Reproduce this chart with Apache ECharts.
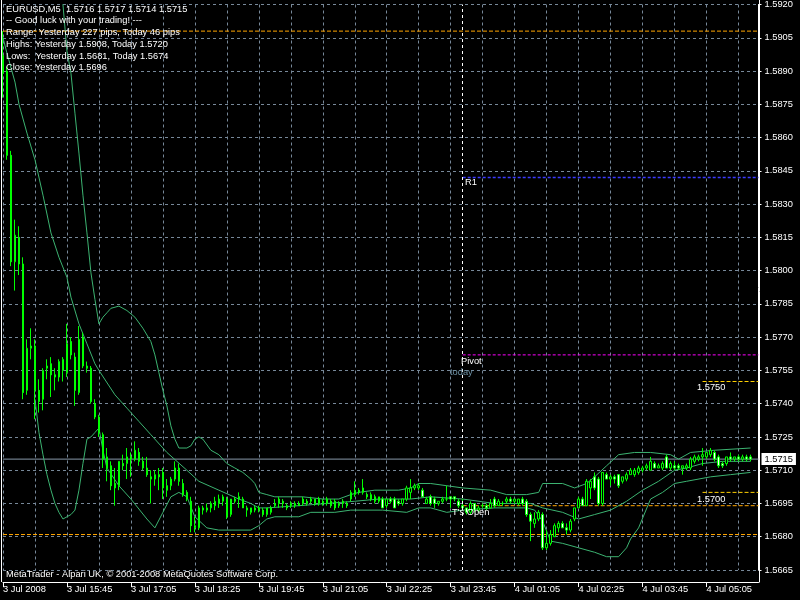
<!DOCTYPE html>
<html><head><meta charset="utf-8">
<script src="https://cdn.jsdelivr.net/npm/echarts@6/dist/echarts.min.js"></script>
<style>html,body{margin:0;padding:0;background:#000}#c{width:800px;height:600px}</style>
</head><body><div id="c"></div>
<script>
// ---------- data ----------
const symbolName = 'EURUSD,M5';
const tickLabels = ['3 Jul 2008','3 Jul 15:45','3 Jul 17:05','3 Jul 18:25','3 Jul 19:45','3 Jul 21:05','3 Jul 22:25','3 Jul 23:45','4 Jul 01:05','4 Jul 02:25','4 Jul 03:45','4 Jul 05:05'];

const opens = [
1.5897,1.5890,1.5852,1.5804,1.5815,1.5803,1.5746,1.5765,1.5766,1.5746,
1.5742,1.5756,1.5758,1.5753,1.5752,1.5755,1.5754,1.5768,1.5761,1.5745,
1.5770,1.5757,1.5756,1.5740,1.5734,1.5726,1.5716,1.5712,1.5704,1.5703,
1.5713,1.5713,1.5715,1.5715,1.5718,1.5714,1.5711,1.5707,1.5706,1.5708,
1.5709,1.5703,1.5703,1.5706,1.5711,1.5704,1.5700,1.5696,1.5684,1.5684,
1.5693,1.5692,1.5693,1.5694,1.5695,1.5696,1.5697,1.5690,1.5697,1.5698,
1.5697,1.5693,1.5691,1.5693,1.5692,1.5692,1.5690,1.5691,1.5694,1.5695,
1.5696,1.5694,1.5694,1.5694,1.5695,1.5695,1.5696,1.5696,1.5695,1.5695,
1.5696,1.5695,1.5696,1.5696,1.5694,1.5696,1.5695,1.5697,1.5699,1.5701,
1.5700,1.5699,1.5697,1.5698,1.5696,1.5697,1.5694,1.5697,1.5697,1.5696,
1.5695,1.5697,1.5700,1.5702,1.5702,1.5701,1.5695,1.5698,1.5697,1.5695,
1.5696,1.5697,1.5698,1.5698,1.5696,1.5694,1.5693,1.5691,1.5695,1.5692,
1.5694,1.5694,1.5693,1.5697,1.5694,1.5695,1.5696,1.5697,1.5696,1.5695,
1.5697,1.5696,1.5690,1.5686,1.5688,1.5690,1.5675,1.5677,1.5680,1.5684,
1.5686,1.5684,1.5683,1.5688,1.5693,1.5697,1.5694,1.5702,1.5707,1.5706,
1.5695,1.5708,1.5706,1.5707,1.5708,1.5705,1.5706,1.5708,1.5708,1.5709,
1.5710,1.5711,1.5710,1.5713,1.5711,1.5711,1.5716,1.5711,1.5712,1.5712,
1.5711,1.5711,1.5711,1.5714,1.5715,1.5716,1.5716,1.5717,1.5718,1.5716,
1.5713,1.5713,1.5716,1.5715,1.5716,1.5715,1.5716,1.5716];

const highs = [
1.5908,1.5892,1.5854,1.5823,1.5820,1.5806,1.5769,1.5774,1.5769,1.5751,
1.5756,1.5760,1.5761,1.5756,1.5760,1.5761,1.5776,1.5770,1.5763,1.5775,
1.5772,1.5759,1.5757,1.5742,1.5735,1.5727,1.5720,1.5714,1.5711,1.5714,
1.5717,1.5720,1.5718,1.5723,1.5720,1.5716,1.5716,1.5710,1.5710,1.5711,
1.5711,1.5706,1.5707,1.5714,1.5713,1.5706,1.5701,1.5698,1.5689,1.5694,
1.5694,1.5695,1.5696,1.5698,1.5699,1.5699,1.5698,1.5697,1.5698,1.5700,
1.5698,1.5694,1.5693,1.5694,1.5694,1.5693,1.5693,1.5694,1.5697,1.5698,
1.5697,1.5695,1.5696,1.5696,1.5696,1.5698,1.5697,1.5698,1.5697,1.5698,
1.5697,1.5698,1.5697,1.5697,1.5696,1.5697,1.5696,1.5701,1.5705,1.5702,
1.5706,1.5700,1.5700,1.5699,1.5698,1.5698,1.5697,1.5698,1.5698,1.5697,
1.5697,1.5703,1.5706,1.5704,1.5704,1.5702,1.5698,1.5699,1.5698,1.5696,
1.5698,1.5703,1.5698,1.5698,1.5697,1.5697,1.5693,1.5696,1.5695,1.5694,
1.5695,1.5695,1.5697,1.5698,1.5697,1.5696,1.5698,1.5698,1.5697,1.5697,
1.5698,1.5697,1.5691,1.5691,1.5692,1.5691,1.5683,1.5683,1.5686,1.5687,
1.5687,1.5686,1.5688,1.5693,1.5698,1.5698,1.5706,1.5706,1.5709,1.5707,
1.5709,1.5709,1.5708,1.5708,1.5708,1.5707,1.5709,1.5711,1.5711,1.5712,
1.5712,1.5713,1.5716,1.5714,1.5713,1.5714,1.5717,1.5714,1.5714,1.5713,
1.5712,1.5713,1.5716,1.5717,1.5717,1.5720,1.5718,1.5720,1.5719,1.5717,
1.5714,1.5716,1.5718,1.5716,1.5717,1.5717,1.5717,1.5717];

const lows = [
1.5878,1.5850,1.5802,1.5791,1.5798,1.5742,1.5744,1.5760,1.5733,1.5736,
1.5737,1.5751,1.5743,1.5746,1.5750,1.5750,1.5752,1.5760,1.5739,1.5744,
1.5756,1.5754,1.5740,1.5733,1.5725,1.5711,1.5705,1.5701,1.5694,1.5701,
1.5710,1.5706,1.5707,1.5714,1.5712,1.5710,1.5707,1.5695,1.5703,1.5701,
1.5697,1.5698,1.5701,1.5705,1.5703,1.5698,1.5696,1.5682,1.5682,1.5683,
1.5690,1.5691,1.5691,1.5692,1.5693,1.5694,1.5688,1.5689,1.5695,1.5693,
1.5693,1.5689,1.5690,1.5691,1.5691,1.5689,1.5689,1.5690,1.5693,1.5693,
1.5693,1.5692,1.5693,1.5693,1.5694,1.5694,1.5694,1.5695,1.5694,1.5694,
1.5694,1.5694,1.5693,1.5692,1.5693,1.5693,1.5693,1.5696,1.5698,1.5699,
1.5699,1.5697,1.5696,1.5695,1.5695,1.5693,1.5693,1.5695,1.5693,1.5694,
1.5694,1.5696,1.5697,1.5701,1.5701,1.5698,1.5695,1.5694,1.5693,1.5694,
1.5695,1.5696,1.5693,1.5696,1.5693,1.5692,1.5690,1.5690,1.5691,1.5691,
1.5693,1.5692,1.5693,1.5693,1.5694,1.5694,1.5695,1.5695,1.5695,1.5694,
1.5694,1.5689,1.5678,1.5684,1.5687,1.5674,1.5674,1.5676,1.5680,1.5682,
1.5684,1.5681,1.5682,1.5687,1.5693,1.5694,1.5694,1.5697,1.5701,1.5694,
1.5694,1.5706,1.5703,1.5704,1.5702,1.5704,1.5705,1.5708,1.5707,1.5708,
1.5709,1.5710,1.5710,1.5711,1.5711,1.5710,1.5711,1.5710,1.5710,1.5710,
1.5708,1.5710,1.5710,1.5713,1.5714,1.5712,1.5715,1.5716,1.5714,1.5711,
1.5711,1.5712,1.5714,1.5714,1.5714,1.5714,1.5714,1.5714];

const closes = [
1.5889,1.5852,1.5804,1.5816,1.5803,1.5745,1.5765,1.5766,1.5746,1.5741,
1.5755,1.5757,1.5753,1.5752,1.5759,1.5760,1.5767,1.5762,1.5746,1.5769,
1.5757,1.5756,1.5741,1.5734,1.5727,1.5715,1.5711,1.5703,1.5702,1.5714,
1.5712,1.5716,1.5716,1.5719,1.5714,1.5711,1.5708,1.5706,1.5708,1.5707,
1.5702,1.5701,1.5706,1.5711,1.5705,1.5699,1.5697,1.5685,1.5685,1.5693,
1.5692,1.5693,1.5695,1.5696,1.5697,1.5698,1.5689,1.5697,1.5696,1.5697,
1.5693,1.5692,1.5693,1.5692,1.5693,1.5690,1.5693,1.5693,1.5695,1.5697,
1.5695,1.5693,1.5695,1.5695,1.5694,1.5697,1.5695,1.5697,1.5697,1.5697,
1.5695,1.5697,1.5694,1.5693,1.5695,1.5695,1.5694,1.5700,1.5701,1.5700,
1.5702,1.5698,1.5699,1.5696,1.5698,1.5693,1.5697,1.5696,1.5693,1.5695,
1.5697,1.5702,1.5702,1.5703,1.5703,1.5698,1.5697,1.5695,1.5695,1.5696,
1.5697,1.5697,1.5697,1.5697,1.5694,1.5693,1.5691,1.5695,1.5692,1.5693,
1.5694,1.5693,1.5695,1.5694,1.5696,1.5695,1.5697,1.5696,1.5697,1.5697,
1.5695,1.5690,1.5687,1.5688,1.5691,1.5675,1.5677,1.5681,1.5685,1.5686,
1.5684,1.5683,1.5687,1.5693,1.5697,1.5694,1.5705,1.5705,1.5702,1.5695,
1.5709,1.5706,1.5707,1.5706,1.5703,1.5707,1.5708,1.5710,1.5710,1.5711,
1.5711,1.5712,1.5714,1.5711,1.5712,1.5713,1.5711,1.5713,1.5711,1.5711,
1.5712,1.5712,1.5715,1.5716,1.5716,1.5717,1.5718,1.5719,1.5715,1.5712,
1.5712,1.5716,1.5715,1.5716,1.5715,1.5716,1.5715,1.5715];

// Bollinger bands read as [bar index, price] points
const upperBand = [[14,1.5935],[15,1.5920],[16,1.5899],[17,1.5889],[18,1.5871],[19,1.5853],[20,1.5834],[21,1.5817],[22,1.5799],[23,1.5787],[24,1.5776],[25,1.5779],[26,1.5781],[27,1.5783],[29,1.5784],[31,1.5782],[33,1.5779],[35,1.5774],[37,1.5768],[38,1.5762],[39,1.5754],[40,1.5746],[41,1.5739],[42,1.5730],[43,1.5724],[44,1.5720],[46,1.5720],[47,1.5721],[48,1.5724],[49,1.5725],[50,1.5724],[52,1.5719],[54,1.5717],[56,1.5713],[58,1.5711],[60,1.5709],[62,1.5706],[63,1.5704],[64,1.5700],[66,1.5699],[68,1.5698],[75,1.5698],[80,1.5697],[84,1.5697],[87,1.5699],[89,1.5700],[93,1.5701],[99,1.5701],[102,1.5702],[104,1.5704],[107,1.5704],[111,1.5703],[115,1.5702],[122,1.5701],[126,1.5699],[131,1.5699],[134,1.5700],[135,1.5704],[140,1.5704],[143,1.5702],[146,1.5704],[148,1.5707],[151,1.5712],[154,1.5717],[158,1.5718],[162,1.5718],[167,1.5717],[169,1.5715],[172,1.5718],[178,1.5719],[187,1.5720]];
const middleBand = [[0,1.5905],[1,1.5898],[3,1.5885],[4,1.5875],[6,1.5862],[8,1.5850],[10,1.5834],[12,1.5817],[14,1.5806],[16,1.5797],[17,1.5788],[19,1.5776],[21,1.5767],[23,1.5758],[24,1.5755],[28,1.5744],[31,1.5738],[34,1.5732],[37,1.5726],[41,1.5718],[46,1.5710],[49,1.5705],[54,1.5701],[59,1.5697],[62,1.5695],[64,1.5693],[66,1.5693],[74,1.5694],[81,1.5695],[88,1.5696],[94,1.5697],[102,1.5697],[107,1.5698],[115,1.5697],[123,1.5695],[132,1.5695],[135,1.5693],[140,1.5691],[144,1.5688],[148,1.5690],[152,1.5692],[156,1.5696],[160,1.5701],[164,1.5705],[168,1.5710],[171,1.5711],[175,1.5713],[180,1.5714],[187,1.5714]];
const lowerBand = [[8,1.5742],[9,1.5727],[10,1.5717],[11,1.5708],[12,1.5701],[13,1.5695],[14,1.5691],[15,1.5688],[17,1.5690],[18,1.5692],[19,1.5701],[20,1.5713],[21,1.5724],[22,1.5725],[23,1.5727],[24,1.5729],[25,1.5719],[26,1.5711],[29,1.5703],[32,1.5697],[36,1.5688],[38,1.5684],[40,1.5691],[42,1.5698],[44,1.5700],[46,1.5698],[48,1.5689],[51,1.5684],[54,1.5683],[62,1.5683],[64,1.5685],[66,1.5688],[68,1.5689],[74,1.5689],[77,1.5691],[83,1.5691],[87,1.5692],[95,1.5692],[101,1.5691],[104,1.5693],[107,1.5693],[111,1.5691],[115,1.5692],[123,1.5693],[131,1.5693],[133,1.5692],[135,1.5687],[137,1.5678],[140,1.5677],[144,1.5675],[148,1.5673],[151,1.5671],[154,1.5671],[156,1.5675],[157,1.5679],[159,1.5684],[162,1.5697],[165,1.5700],[168,1.5704],[171,1.5705],[177,1.5707],[182,1.5708],[187,1.5709]];

// daily levels
const yesterdayHigh = 1.5908, yesterdayLow = 1.5681, yesterdayClose = 1.5696;
const todayHigh = 1.5720, todayLow = 1.5674, todayOpen = 1.5694;
const pivotLevel = 1.5762, r1Level = 1.5842;
const roundLevels = [1.5750, 1.5700];
const dayStartBar = 115, roundLineStartBar = 175, slotCount = 190;
const yTicks = {min: 1.5665, max: 1.5920, step: 0.0015};

// ---------- chart ----------
function pad(n){return (n<10?'0':'')+n;}
const categories = [];
const t0 = Date.UTC(2008,6,3,14,25);
for (let i=0;i<slotCount;i++){const d=new Date(t0+i*300000);categories.push(d.getUTCDate()+' Jul '+pad(d.getUTCHours())+':'+pad(d.getUTCMinutes()));}
const candles = opens.map((o,i)=>[o, closes[i], lows[i], highs[i]]);
const last = opens.length-1;
const FF = '"Liberation Sans", Arial, sans-serif';
const FS = 9.3;
const pipsRange = (a,b)=>Math.round((a-b)*10000);

const chart = echarts.init(document.getElementById('c'), null, {renderer:'canvas'});
const gridColor = '#778899';
const dashLine = (color, type)=>({color, width:1, type, opacity:1});

const headerLines = [
  symbolName + '  ' + [opens[last],highs[last],lows[last],closes[last]].map(v=>v.toFixed(4)).join(' '),
  '-- Good luck with your trading! ---',
  'Range: Yesterday ' + pipsRange(yesterdayHigh,yesterdayLow) + ' pips, Today ' + pipsRange(todayHigh,todayLow) + ' pips',
  'Highs: Yesterday ' + yesterdayHigh.toFixed(4) + ', Today ' + todayHigh.toFixed(4),
  'Lows:  Yesterday ' + yesterdayLow.toFixed(4) + ', Today ' + todayLow.toFixed(4),
  'Close: Yesterday ' + yesterdayClose.toFixed(4)
];
const headerTops = [4.5, 16, 28, 39.5, 51.5, 63];
const txt = (x, y, s, color) => ({type:'text', left:x, top:y, z:100, silent:true,
  style:{text:s, fill:color||'#fff', fontSize:FS, fontFamily:FF}});

const graphics = headerLines.map((s,i)=>txt(6, headerTops[i], s));
graphics.push(txt(6, 569.5, 'MetaTrader - Alpari UK, \u00a9 2001-2008 MetaQuotes Software Corp.'));
graphics.push(txt(465, 178, 'R1'));
graphics.push(txt(461, 357, 'Pivot'));
graphics.push(txt(450, 367.5, 'today', '#6b8fa3'));
graphics.push(txt(452, 508, "T's Open"));
graphics.push(txt(697, 382.5, roundLevels[0].toFixed(4)));
graphics.push(txt(697, 494.5, roundLevels[1].toFixed(4)));
graphics.push({type:'line', z:50, silent:true, shape:{x1:1.5,y1:0,x2:1.5,y2:582}, style:{stroke:'#fff', lineWidth:1}});
graphics.push({type:'line', z:50, silent:true, shape:{x1:759.5,y1:0,x2:759.5,y2:582.5}, style:{stroke:'#fff', lineWidth:1}});

const bandSeries = (name, pts) => ({
  name, type:'line', data:pts, showSymbol:false, symbol:'none', clip:true, silent:true,
  lineStyle:{color:'#3cb371', width:1}, z:2, animation:false
});
const levelSeries = (name, value, fromBar, color, dash, extra) => Object.assign({
  name, type:'line', data:[[fromBar, value],[slotCount-1, value]], showSymbol:false, symbol:'none',
  silent:true, animation:false, z:1, lineStyle:{color, width:1, type:dash, opacity:1}
}, extra || {});

const option = {
  backgroundColor:'#000',
  animation:false,
  grid:{left:2.5, right:41.5, top:4, bottom:30, containLabel:false},
  xAxis:{
    type:'category', data:categories, boundaryGap:false, offset:12,
    axisLine:{show:true, lineStyle:{color:'#fff', width:1}},
    axisTick:{show:true, interval:15, length:5, lineStyle:{color:'#fff'}},
    axisLabel:{interval:15, align:'left', color:'#fff', fontSize:FS, fontFamily:FF, margin:3,
      formatter:(v,i)=>tickLabels[i/16] || ''},
    splitLine:{show:true, interval:7, lineStyle:dashLine(gridColor,[3,3])}
  },
  yAxis:{
    type:'value', position:'right', min:yTicks.min, max:yTicks.max, interval:yTicks.step, scale:true,
    axisLine:{show:true, lineStyle:{color:'#fff'}},
    axisTick:{show:true, length:3, lineStyle:{color:'#fff'}},
    axisLabel:{color:'#fff', fontSize:FS, fontFamily:FF, margin:6, formatter:v=>v.toFixed(4)},
    splitLine:{show:true, lineStyle:dashLine(gridColor,[3,3])}
  },
  series:[
    levelSeries('Yesterday high', yesterdayHigh, 0, '#ffa500', [4,2]),
    levelSeries('Yesterday low', yesterdayLow, 0, '#ffa500', [4,2]),
    levelSeries("Today's open", todayOpen, dayStartBar, '#ffa500', [4,2]),
    levelSeries('R1', r1Level, dayStartBar, '#3a3aff', [3,2], {lineStyle:{color:'#3a3aff', width:1.3, type:[3,2], opacity:1}}),
    levelSeries('Pivot', pivotLevel, dayStartBar, '#ff00ff', [3,2]),
    levelSeries('Round 1', roundLevels[0], roundLineStartBar, '#ffd000', [4,2]),
    levelSeries('Round 2', roundLevels[1], roundLineStartBar, '#ffd000', [4,2]),
    levelSeries('Bid', closes[last], 0, '#8899aa', 'solid', {
      endLabel:{show:true, distance:3, formatter:()=>closes[last].toFixed(4),
        backgroundColor:'#fff', color:'#000', padding:[2,3,1,3], fontSize:FS, fontFamily:FF}
    }),
    bandSeries('upper', upperBand),
    bandSeries('middle', middleBand),
    bandSeries('lower', lowerBand),
    {
      name:symbolName, type:'candlestick', data:candles, barWidth:2, clip:false, silent:true, z:3,
      itemStyle:{color:'#000', color0:'#fff', borderColor:'#00ff00', borderColor0:'#00ff00', borderWidth:1},
      markLine:{
        symbol:['none','none'], silent:true, animation:false,
        label:{show:false},
        lineStyle:{color:'#ffffff', width:1, type:[3,3]},
        data:[{xAxis:dayStartBar}]
      }
    }
  ],
  graphic:graphics
};
chart.setOption(option);
</script>
</body></html>
